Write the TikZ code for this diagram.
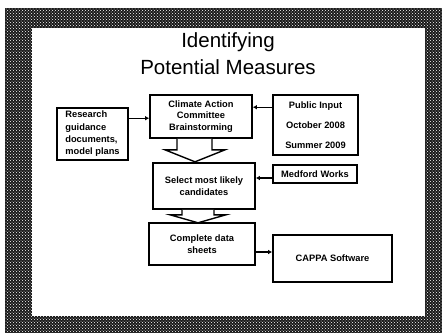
\documentclass[tikz,border=0pt]{standalone}
\usepackage{fontspec}
\setmainfont{Liberation Sans}
\usetikzlibrary{arrows.meta,patterns,calc}

\begin{document}
\begin{tikzpicture}[x=1pt,y=-1pt,
	box/.style={draw,line width=1.6pt,fill=white,align=center,inner sep=2pt,
		font=\fontsize{9.3}{11.5}\selectfont\bfseries},
	link/.style={line width=1.4pt,-{Latex[length=4pt,width=4.5pt]}},
	fat/.style={draw,line width=1.4pt,fill=white}]
	% frame
	\fill[white] (0,0) rectangle (442,333);
	\fill[black!90] (5,8) rectangle (442,333);
	\fill[pattern=crosshatch dots,pattern color=white] (5,8) rectangle (442,333);
	\fill[white] (32,28) rectangle (425,316);
	% title
	\node[font=\fontsize{20.5}{27}\selectfont,align=center] (title) at (228,54)
		{Identifying\\Potential Measures};
	% boxes
	\node[box,minimum width=102pt,minimum height=43pt] (brain) at (201,116.5)
		{Climate Action\\Committee\\Brainstorming};
	\node[box,align=left,minimum width=71pt,minimum height=52pt,
		font=\fontsize{9.3}{12.3}\selectfont\bfseries] (research) at (92.5,134)
		{Research\\guidance\\documents,\\model plans};
	\node[box,minimum width=85pt,minimum height=60pt,
		font=\fontsize{9.3}{20}\selectfont\bfseries] (public) at (315.5,125)
		{Public Input\\October 2008\\Summer 2009};
	\node[box,minimum width=102pt,minimum height=46pt] (select) at (204,186)
		{Select most likely\\candidates};
	\node[box,minimum width=84pt,minimum height=18pt] (medford) at (315,174)
		{Medford Works};
	\node[box,minimum width=106pt,minimum height=42pt] (sheets) at (202,244)
		{Complete data\\sheets};
	\node[box,minimum width=119pt,minimum height=47pt] (cappa) at (332.5,258.5)
		{CAPPA Software};
	% big arrows
	\draw[fat] ([xshift=-24pt]brain.south) -- ++(0,11) -- ++(-12,0) -- ++(30,12)
		-- ++(30,-12) -- ++(-13,0) -- ++(0,-11);
	\draw[fat] ([xshift=-22pt]select.south) -- ++(0,5) -- ++(-12,0) -- ++(28,8)
		-- ++(28,-8) -- ++(-12,0) -- ++(0,-5);
	% links
	\coordinate (r1) at ([yshift=-11pt]research.north east);
	\coordinate (p1) at ([yshift=-13pt]public.north west);
	\coordinate (m1) at ([yshift=-4pt]medford.west);
	\coordinate (s1) at ([yshift=-8pt]sheets.east);
	\draw[link] (r1) -- (r1 -| brain.west);
	\draw[link] (p1) -- (p1 -| brain.east);
	\draw[link] (m1) -- (m1 -| select.east);
	\draw[link] (s1) -- (s1 -| cappa.west);
\end{tikzpicture}
\end{document}
